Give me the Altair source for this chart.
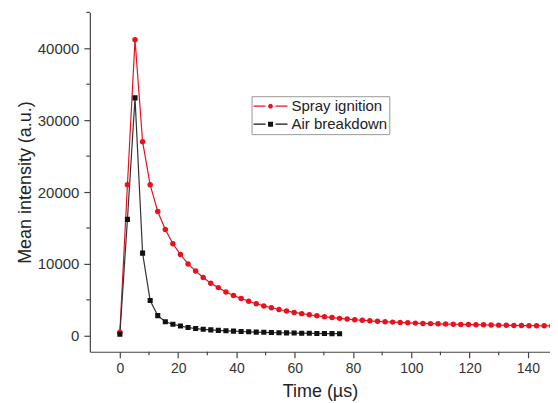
import altair as alt
import pandas as pd

# ---- data ----
spray_t = [0.0, 2.6, 5.2, 7.8, 10.4, 13.0, 15.6, 18.2, 20.8, 23.4, 26.0, 28.6, 31.2, 33.8, 36.4,
           39.0, 41.6, 44.2, 46.8, 49.4, 52.0, 54.6, 57.2, 59.8, 62.4, 65.0, 67.6, 70.2, 72.8,
           75.4, 78.0, 80.6, 83.2, 85.8, 88.4, 91.0, 93.6, 96.2, 98.8, 101.4, 104.0, 106.6,
           109.2, 111.8, 114.4, 117.0, 119.6, 122.2, 124.8, 127.4, 130.0, 132.6, 135.2, 137.8,
           140.4, 143.0, 145.6, 148.2]
spray_v = [500, 21000, 41200, 27000, 21000, 17300, 14800, 12800, 11300, 10000, 9000, 8100,
           7300, 6700, 6100, 5600, 5200, 4800, 4450, 4150, 3900, 3650, 3450, 3250, 3080, 2920,
           2780, 2650, 2530, 2420, 2320, 2230, 2150, 2080, 2010, 1950, 1900, 1850, 1800, 1760,
           1720, 1690, 1660, 1630, 1600, 1580, 1560, 1540, 1520, 1500, 1480, 1460, 1440, 1420,
           1400, 1390, 1380, 1370]

air_t = [0.0, 2.6, 5.2, 7.8, 10.4, 13.0, 15.6, 18.2, 20.8, 23.4, 26.0, 28.6, 31.2, 33.8, 36.4,
         39.0, 41.6, 44.2, 46.8, 49.4, 52.0, 54.6, 57.2, 59.8, 62.4, 65.0, 67.6, 70.2, 72.8, 75.4]
air_v = [200, 16200, 33100, 11500, 4900, 2800, 1950, 1600, 1350, 1150, 1000, 900, 820, 750,
         690, 640, 590, 550, 510, 480, 450, 420, 400, 380, 360, 340, 320, 310, 300, 290]

series_names = ["Spray ignition", "Air breakdown"]
series_colors = ["#e8121f", "#111111"]

x_ticks = [0, 20, 40, 60, 80, 100, 120, 140]
x_minor = [10, 30, 50, 70, 90, 110, 130]
y_ticks = [0, 10000, 20000, 30000, 40000]
y_minor = [5000, 15000, 25000, 35000, 45000]

df_spray = pd.DataFrame({"t": spray_t, "v": spray_v, "series": series_names[0]})
df_air = pd.DataFrame({"t": air_t, "v": air_v, "series": series_names[1]})
df_all = pd.concat([df_spray, df_air])

FONT = "Liberation Sans"
W, H = 461, 340
axis_col = "#444444"

xs = alt.Scale(domain=[-10.3, 147.6], nice=False, zero=False)
ys = alt.Scale(domain=[-2222, 45000], nice=False, zero=False)

x_axis = alt.Axis(values=x_ticks, title="Time (µs)", grid=False, tickSize=6,
                  domainColor=axis_col, tickColor=axis_col, domainWidth=1.2, tickWidth=1.2,
                  labelFont=FONT, labelFontSize=14, labelColor="#333333", labelPadding=4,
                  titleFont=FONT, titleFontSize=18, titleFontWeight="normal",
                  titleColor="#222222", titlePadding=7, labelFlush=False)
y_axis = alt.Axis(values=y_ticks, format="d", title="Mean intensity (a.u.)", grid=False,
                  tickSize=6, domainColor=axis_col, tickColor=axis_col, domainWidth=1.2,
                  tickWidth=1.2, labelFont=FONT, labelFontSize=15, labelColor="#333333",
                  labelPadding=5, titleFont=FONT, titleFontSize=18, titleFontWeight="normal",
                  titleColor="#222222", titlePadding=3)

red_line = alt.Chart(df_spray).mark_line(strokeWidth=1.2, clip=True, color=series_colors[0]).encode(
    x=alt.X("t:Q", scale=xs, axis=x_axis),
    y=alt.Y("v:Q", scale=ys, axis=y_axis),
)
blk_line = alt.Chart(df_air).mark_line(strokeWidth=1.2, clip=True, color="#333333").encode(
    x=alt.X("t:Q", scale=xs), y=alt.Y("v:Q", scale=ys))

red_pts = alt.Chart(df_spray).mark_point(shape="circle", filled=True, size=30, opacity=1,
                                         clip=True, color=series_colors[0]).encode(
    x=alt.X("t:Q", scale=xs), y=alt.Y("v:Q", scale=ys))
blk_pts = alt.Chart(df_air).mark_point(shape="square", filled=True, size=26, opacity=1,
                                       clip=True, color=series_colors[1]).encode(
    x=alt.X("t:Q", scale=xs), y=alt.Y("v:Q", scale=ys))

# legend glyphs: dash - marker - dash (unit = 8 px for symbolSize 256)
path_red = ("M-2.125,-0.075H-0.625V0.075H-2.125Z M0.625,-0.075H2.125V0.075H0.625Z "
            "M-0.3,0A0.3,0.3 0 1,1 0.3,0A0.3,0.3 0 1,1 -0.3,0Z")
path_blk = ("M-2.125,-0.075H-0.625V0.075H-2.125Z M0.625,-0.075H2.125V0.075H0.625Z "
            "M-0.31,-0.31H0.31V0.31H-0.31Z")

leg = alt.Legend(orient="none", legendX=162, legendY=84, title=None, symbolSize=256,
                 symbolOffset=9, symbolStrokeWidth=0, labelFont=FONT, labelFontSize=15,
                 labelColor="#222222", labelOffset=13, strokeColor="#999999", padding=2,
                 rowPadding=2)

legend_layer = alt.Chart(df_all).transform_filter("false").mark_point(
    filled=True, opacity=1).encode(
    color=alt.Color("series:N", scale=alt.Scale(domain=series_names, range=series_colors),
                    legend=leg),
    shape=alt.Shape("series:N", scale=alt.Scale(domain=series_names,
                                                  range=[path_red, path_blk]), legend=leg),
)

ymin = alt.Chart(pd.DataFrame({"v": y_minor})).mark_rule(color=axis_col, strokeWidth=1.2).encode(
    y=alt.Y("v:Q", scale=ys), x=alt.value(-3.5), x2=alt.value(0))
xmin = alt.Chart(pd.DataFrame({"t": x_minor})).mark_rule(color=axis_col, strokeWidth=1.2).encode(
    x=alt.X("t:Q", scale=xs), y=alt.value(H), y2=alt.value(H + 3.5))

chart = alt.layer(red_line, blk_line, red_pts, blk_pts, legend_layer, ymin, xmin).properties(
    width=W, height=H,
    autosize=alt.AutoSizeParams(type="none"),
    padding={"left": 82, "top": 4, "right": 0, "bottom": 54},
    background="white",
).configure_view(stroke=None)

chart.save("out.html", embed_options={"renderer": "svg", "actions": False})
